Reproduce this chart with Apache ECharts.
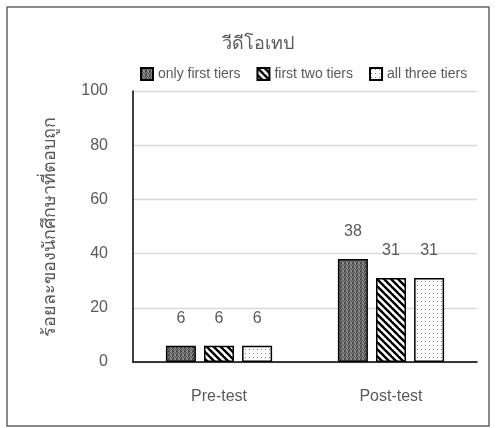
<!DOCTYPE html>
<html>
<head>
<meta charset="utf-8">
<script src="https://cdn.jsdelivr.net/npm/echarts@6/dist/echarts.min.js"></script>
<style>
html,body{margin:0;padding:0;background:#fff;}
#main{width:497px;height:428px;}
</style>
</head>
<body>
<div id="main"></div>
<script>
// ข้อมูล
var categories = ['Pre-test', 'Post-test'];
var seriesNames = ['only first tiers', 'first two tiers', 'all three tiers'];
var onlyFirst = [6, 38];
var firstTwo = [6, 31];
var allThree = [6, 31];
var yTicks = [0, 20, 40, 60, 80, 100];

// ลายของแท่ง
function makePattern(kind) {
	var c = document.createElement('canvas');
	var ctx = c.getContext('2d');
	if (kind == 'checker') {
		c.width = 4; c.height = 4;
		ctx.fillStyle = '#8c8c8c';
		ctx.fillRect(0, 0, 4, 4);
		ctx.fillStyle = '#4a4a4a';
		ctx.fillRect(0, 0, 1, 1); ctx.fillRect(2, 0, 1, 1);
		ctx.fillRect(1, 1, 1, 1); ctx.fillRect(3, 1, 1, 1);
		ctx.fillRect(0, 2, 2, 2);
	} else if (kind == 'stripe') {
		c.width = 7; c.height = 7;
		ctx.fillStyle = '#fff';
		ctx.fillRect(0, 0, 7, 7);
		ctx.strokeStyle = '#000';
		ctx.lineWidth = 2.4;
		for (var k = -7; k <= 7; k += 7) {
			ctx.beginPath();
			ctx.moveTo(k - 2, -2);
			ctx.lineTo(k + 9, 9);
			ctx.stroke();
		}
	} else {
		c.width = 4; c.height = 4;
		ctx.fillStyle = '#fff';
		ctx.fillRect(0, 0, 4, 4);
		ctx.fillStyle = '#8a8a8a';
		ctx.fillRect(1, 1, 1, 1);
	}
	return {image: c, repeat: 'repeat'};
}

var fills = [makePattern('checker'), makePattern('stripe'), makePattern('dots')];
var values = [onlyFirst, firstTwo, allThree];
var txt = '#595959';
var fontName = 'Liberation Sans, Arial, sans-serif';

var series = [];
for (let i = 0; i < seriesNames.length; i++) {
	series.push({
		name: seriesNames[i],
		type: 'bar',
		barWidth: 30,
		barGap: '27%',
		data: values[i],
		itemStyle: {
			color: fills[i],
			borderColor: '#000',
			borderWidth: 1.5
		},
		label: {
			show: true,
			position: 'top',
			distance: 19,
			color: txt,
			fontSize: 16,
			fontFamily: fontName
		}
	});
}

var myChart = echarts.init(document.getElementById('main'));
var option = {
	animation: false,
	textStyle: {fontFamily: fontName},
	title: {
		text: 'วีดีโอเทป',
		left: 253,
		top: 30,
		textAlign: 'center',
		textStyle: {color: txt, fontSize: 18, fontWeight: 'normal', fontFamily: fontName}
	},
	legend: {
		top: 62,
		left: 135,
		icon: 'rect',
		itemWidth: 12,
		itemHeight: 12,
		itemGap: 16,
		textStyle: {color: txt, fontSize: 14, fontFamily: fontName},
		data: seriesNames
	},
	grid: {left: 133, right: 20, top: 91, bottom: 66},
	xAxis: {
		type: 'category',
		data: categories,
		axisLine: {lineStyle: {color: '#000', width: 1.5}},
		axisTick: {show: false},
		axisLabel: {color: txt, fontSize: 16, margin: 27, fontFamily: fontName}
	},
	yAxis: {
		type: 'value',
		min: yTicks[0],
		max: yTicks[yTicks.length - 1],
		interval: 20,
		name: 'ร้อยละของนักศึกษาที่ตอบถูก',
		nameLocation: 'middle',
		nameGap: 74,
		nameTextStyle: {color: txt, fontSize: 18, fontFamily: fontName},
		axisLine: {show: true, lineStyle: {color: '#000', width: 1.5}},
		axisTick: {show: false},
		axisLabel: {color: txt, fontSize: 16, margin: 25, fontFamily: fontName},
		splitLine: {lineStyle: {color: '#d9d9d9', width: 1.3}}
	},
	graphic: [{
		type: 'rect',
		shape: {x: 7, y: 7, width: 482, height: 419},
		style: {fill: 'none', stroke: '#666', lineWidth: 1.5}
	}],
	series: series
};
option && myChart.setOption(option);
</script>
</body>
</html>
